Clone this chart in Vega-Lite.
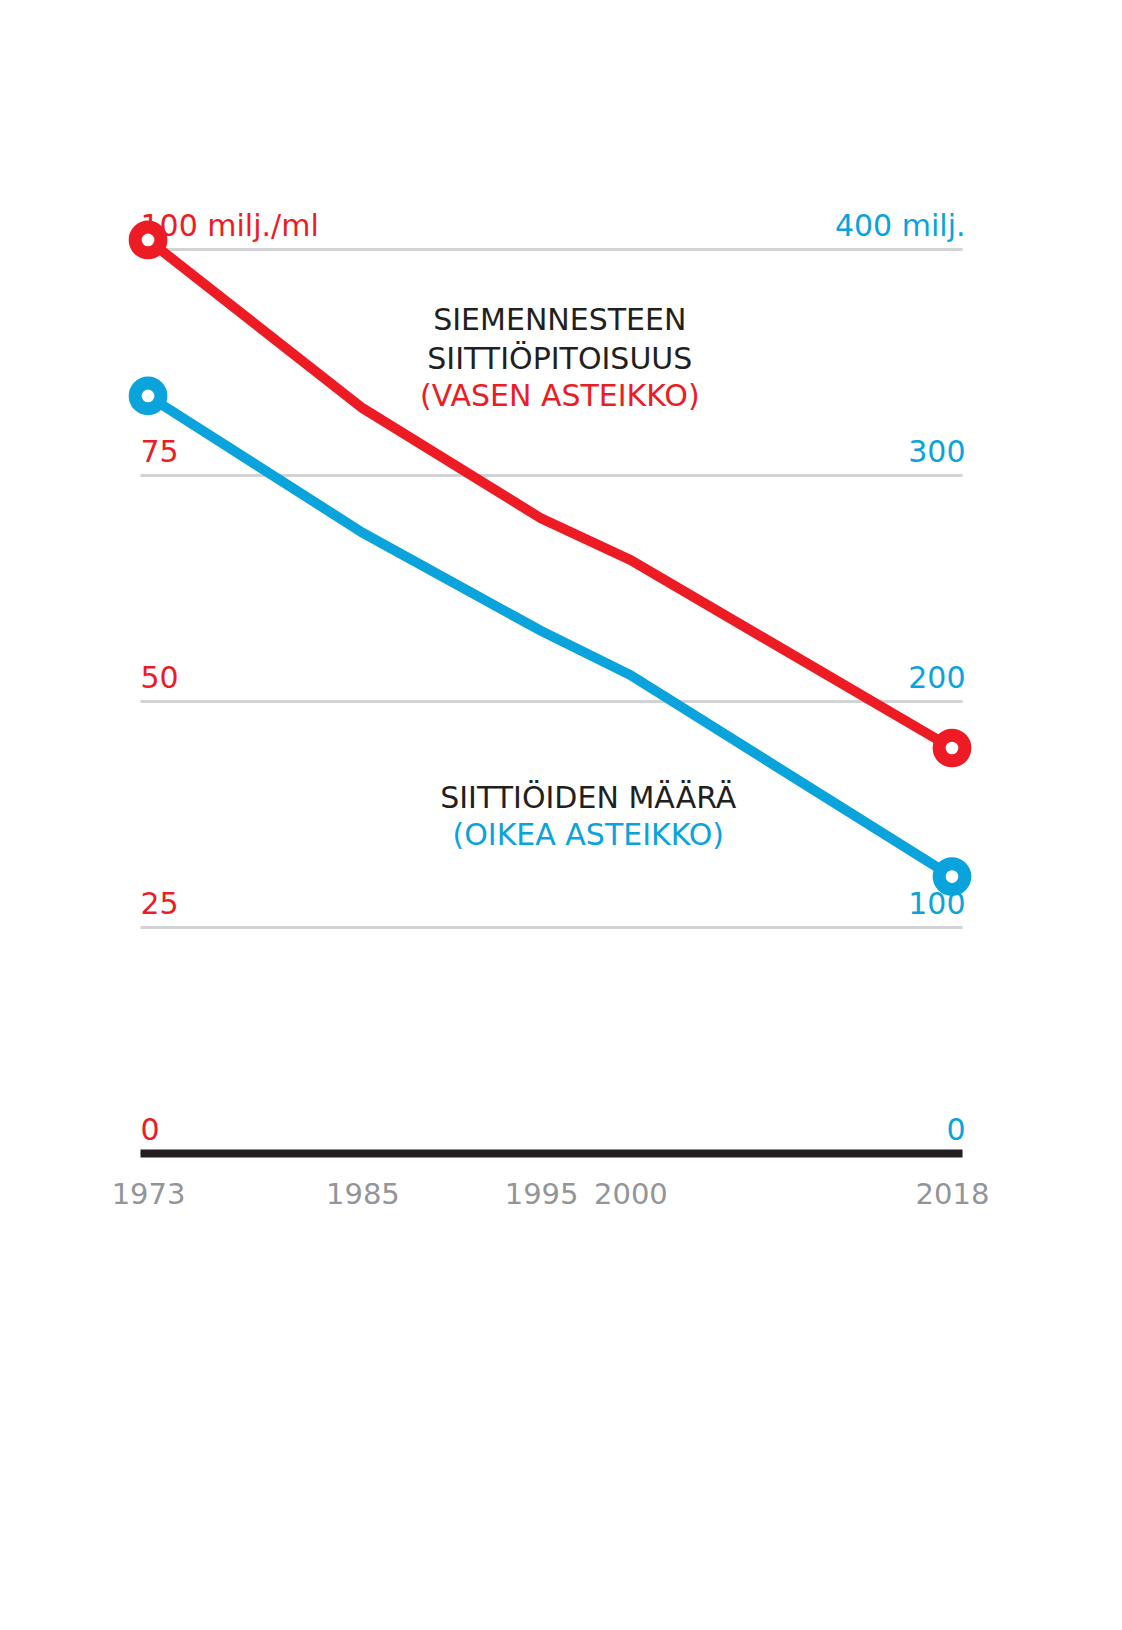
{
  "$schema": "https://vega.github.io/schema/vega-lite/v6.json",
  "width": 822,
  "height": 904,
  "autosize": "none",
  "padding": {"left": 140, "top": 249, "right": 160, "bottom": 477},
  "background": "white",
  "config": {"view": {"stroke": null}, "font": "DejaVu Sans"},
  "data": {"values": [
    {"year": 1973, "conc": 101, "count": 335},
    {"year": 1985, "conc": 82.4, "count": 274.5},
    {"year": 1995, "conc": 70.2, "count": 231},
    {"year": 2000, "conc": 65.6, "count": 211.5},
    {"year": 2018, "conc": 44.8, "count": 122.3}
  ]},
  "layer": [
    {
      "layer": [
        {
          "mark": {"type": "line", "color": "#ed1c24", "strokeWidth": 10},
          "encoding": {
            "x": {"field": "year", "type": "quantitative", "scale": {"domain": [1972.55, 2018.56], "nice": false, "zero": false},
              "axis": {"values": [1973, 1985, 1995, 2000, 2018], "format": "d", "title": null, "grid": false, "ticks": false, "tickSize": 0,
                "domain": true, "domainColor": "#231f20", "domainWidth": 8, "labelColor": "#939598", "labelFontSize": 29,
                "labelPadding": 27, "labelBaseline": "top", "labelFlush": false, "labelOverlap": false, "zindex": 1}},
            "y": {"field": "conc", "type": "quantitative", "scale": {"domain": [0, 100], "nice": false},
              "axis": {"values": [0, 25, 50, 75, 100], "title": null, "grid": true, "gridColor": "#d1d3d4", "gridWidth": 3,
                "domain": false, "ticks": false, "tickSize": 0, "labelAlign": "left", "labelBaseline": "alphabetic",
                "labelPadding": 0, "labelOffset": -14, "labelColor": "#ed1c24", "labelFontSize": 30,
                "labelExpr": "datum.value == 100 ? '100 milj./ml' : datum.label", "labelFlush": false, "labelOverlap": false}}
          }
        },
        {
          "transform": [{"filter": "datum.year == 1973 || datum.year == 2018"}],
          "mark": {"type": "circle", "fill": "white", "fillOpacity": 1, "stroke": "#ed1c24", "strokeWidth": 13, "size": 661, "opacity": 1},
          "encoding": {
            "x": {"field": "year", "type": "quantitative"},
            "y": {"field": "conc", "type": "quantitative"}
          }
        },
        {
          "data": {"values": [{}]},
          "mark": {"type": "text", "text": "SIEMENNESTEEN", "fontSize": 30, "align": "center", "baseline": "alphabetic", "color": "#231f20"},
          "encoding": {"x": {"datum": 1996.05, "type": "quantitative"}, "y": {"datum": 91.0, "type": "quantitative"}}
        },
        {
          "data": {"values": [{}]},
          "mark": {"type": "text", "text": "SIITTIÖPITOISUUS", "fontSize": 30, "align": "center", "baseline": "alphabetic", "color": "#231f20"},
          "encoding": {"x": {"datum": 1996.05, "type": "quantitative"}, "y": {"datum": 86.7, "type": "quantitative"}}
        },
        {
          "data": {"values": [{}]},
          "mark": {"type": "text", "text": "(VASEN ASTEIKKO)", "fontSize": 30, "align": "center", "baseline": "alphabetic", "color": "#ed1c24"},
          "encoding": {"x": {"datum": 1996.05, "type": "quantitative"}, "y": {"datum": 82.6, "type": "quantitative"}}
        }
      ]
    },
    {
      "layer": [
        {
          "mark": {"type": "line", "color": "#0ba3dc", "strokeWidth": 10},
          "encoding": {
            "x": {"field": "year", "type": "quantitative"},
            "y": {"field": "count", "type": "quantitative", "scale": {"domain": [0, 400], "nice": false},
              "axis": {"orient": "right", "values": [0, 100, 200, 300, 400], "title": null, "grid": false,
                "domain": false, "ticks": false, "tickSize": 0, "labelAlign": "right", "labelBaseline": "alphabetic",
                "labelPadding": 3, "labelOffset": -14, "labelColor": "#0ba3dc", "labelFontSize": 30,
                "labelExpr": "datum.value == 400 ? '400 milj.' : datum.label", "labelFlush": false, "labelOverlap": false}}
          }
        },
        {
          "transform": [{"filter": "datum.year == 1973 || datum.year == 2018"}],
          "mark": {"type": "circle", "fill": "white", "fillOpacity": 1, "stroke": "#0ba3dc", "strokeWidth": 13, "size": 661, "opacity": 1},
          "encoding": {
            "x": {"field": "year", "type": "quantitative"},
            "y": {"field": "count", "type": "quantitative"}
          }
        },
        {
          "data": {"values": [{}]},
          "mark": {"type": "text", "text": "SIITTIÖIDEN MÄÄRÄ", "fontSize": 30, "align": "center", "baseline": "alphabetic", "color": "#231f20"},
          "encoding": {"x": {"datum": 1997.64, "type": "quantitative"}, "y": {"datum": 152.6, "type": "quantitative"}}
        },
        {
          "data": {"values": [{}]},
          "mark": {"type": "text", "text": "(OIKEA ASTEIKKO)", "fontSize": 30, "align": "center", "baseline": "alphabetic", "color": "#0ba3dc"},
          "encoding": {"x": {"datum": 1997.64, "type": "quantitative"}, "y": {"datum": 136.4, "type": "quantitative"}}
        }
      ]
    }
  ],
  "resolve": {"scale": {"y": "independent"}}
}
